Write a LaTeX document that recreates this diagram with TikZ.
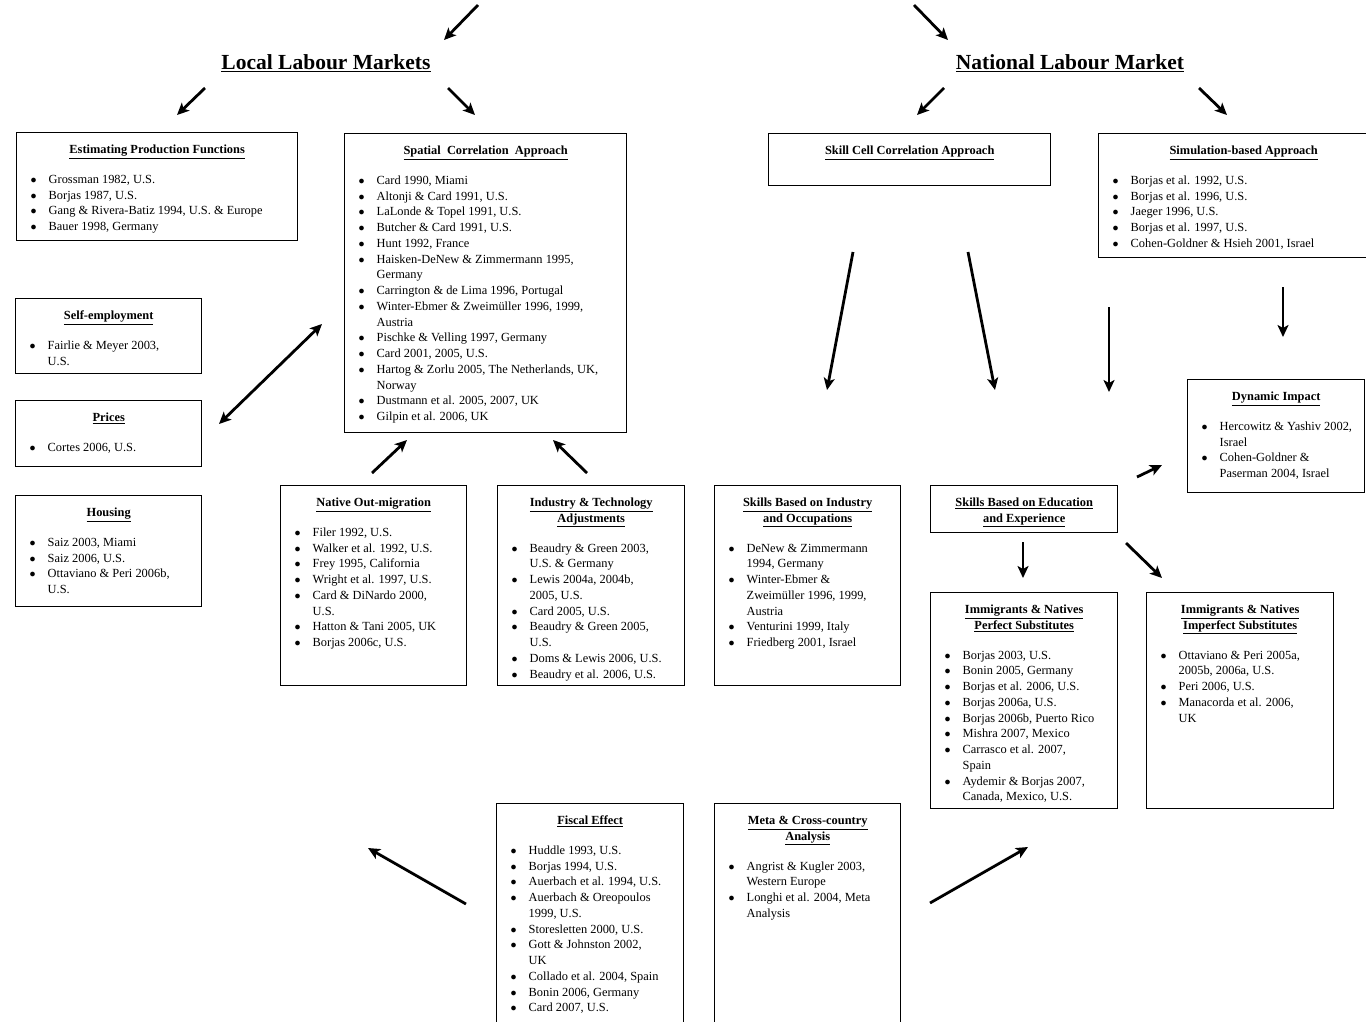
\documentclass[tikz,border=0pt]{standalone}
\usepackage{fontspec}
\setmainfont{Liberation Serif}
\usepackage{tikz}
\usetikzlibrary{arrows.meta,positioning}

% box contents: width, height, body
\newcommand{\refbox}[3]{\parbox[t][#2][t]{#1}{\rightskip=0pt plus 1fil\relax\vspace*{10pt}#3}}
\newcommand{\heading}[1]{\centerline{\strut\smash{\underline{\textbf{#1}}}}}
\newcommand{\itm}[1]{\par\hangindent=32pt\hangafter=1\noindent\hspace*{14pt}\makebox[18pt][l]{$\bullet$}#1\par}
\newcommand{\gap}{\par\vspace{14pt}}

\tikzset{
  box/.style={draw, line width=1.4pt, inner sep=0pt, anchor=north west,
    font=\fontsize{12.4}{15.75}\selectfont},
  market/.style={font=\fontsize{21.5}{24}\selectfont\bfseries},
  arr/.style={line width=2.8pt, -{Stealth[length=12pt,width=11pt,inset=3pt]}},
  dblarr/.style={line width=2.8pt, {Stealth[length=12pt,width=11pt,inset=3pt]}-{Stealth[length=12pt,width=11pt,inset=3pt]}}
}

\begin{document}
\begin{tikzpicture}[x=1pt,y=-1pt]%
\useasboundingbox (0,0) rectangle (1366,1021);
%% labour markets
\node[market] (local) at (326,63) {\underline{Local Labour Markets}};
\node[market] (national) at (1070,63) {\underline{National Labour Market}};
%% local side
\node[box] (est) at (16,132) {\refbox{281pt}{108pt}{%
  \heading{Estimating Production Functions}\gap
  \itm{Grossman 1982, U.S.}
  \itm{Borjas 1987, U.S.}
  \itm{Gang \& Rivera-Batiz 1994, U.S. \& Europe}
  \itm{Bauer 1998, Germany}}};
\node[box] (spatial) at (344,133) {\refbox{282pt}{299pt}{%
  \heading{Spatial\ \ Correlation\ \ Approach}\gap
  \itm{Card 1990, Miami}
  \itm{Altonji \& Card 1991, U.S.}
  \itm{LaLonde \& Topel 1991, U.S.}
  \itm{Butcher \& Card 1991, U.S.}
  \itm{Hunt 1992, France}
  \itm{Haisken-DeNew \& Zimmermann 1995,\newline Germany}
  \itm{Carrington \& de Lima 1996, Portugal}
  \itm{Winter-Ebmer \& Zweimüller 1996, 1999,\newline Austria}
  \itm{Pischke \& Velling 1997, Germany}
  \itm{Card 2001, 2005, U.S.}
  \itm{Hartog \& Zorlu 2005, The Netherlands, UK,\newline Norway}
  \itm{Dustmann et al. 2005, 2007, UK}
  \itm{Gilpin et al. 2006, UK}}};
\node[box] (self) at (15,298) {\refbox{186pt}{75pt}{%
  \heading{Self-employment}\gap
  \itm{Fairlie \& Meyer 2003,\newline U.S.}}};
\node[box] (prices) at (15,400) {\refbox{186pt}{66pt}{%
  \heading{Prices}\gap
  \itm{Cortes 2006, U.S.}}};
\node[box] (housing) at (15,495) {\refbox{186pt}{111pt}{%
  \heading{Housing}\gap
  \itm{Saiz 2003, Miami}
  \itm{Saiz 2006, U.S.}
  \itm{Ottaviano \& Peri 2006b,\newline U.S.}}};
\node[box] (native) at (280,485) {\refbox{186pt}{200pt}{%
  \heading{Native Out-migration}\gap
  \itm{Filer 1992, U.S.}
  \itm{Walker et al. 1992, U.S.}
  \itm{Frey 1995, California}
  \itm{Wright et al. 1997, U.S.}
  \itm{Card \& DiNardo 2000,\newline U.S.}
  \itm{Hatton \& Tani 2005, UK}
  \itm{Borjas 2006c, U.S.}}};
\node[box] (industry) at (497,485) {\refbox{187pt}{200pt}{%
  \heading{Industry \& Technology}
  \heading{Adjustments}\gap
  \itm{Beaudry \& Green 2003,\newline U.S. \& Germany}
  \itm{Lewis 2004a, 2004b,\newline 2005, U.S.}
  \itm{Card 2005, U.S.}
  \itm{Beaudry \& Green 2005,\newline U.S.}
  \itm{Doms \& Lewis 2006, U.S.}
  \itm{Beaudry et al. 2006, U.S.}}};
\node[box] (fiscal) at (496,803) {\refbox{187pt}{240pt}{%
  \heading{Fiscal Effect}\gap
  \itm{Huddle 1993, U.S.}
  \itm{Borjas 1994, U.S.}
  \itm{Auerbach et al. 1994, U.S.}
  \itm{Auerbach \& Oreopoulos\newline 1999, U.S.}
  \itm{Storesletten 2000, U.S.}
  \itm{Gott \& Johnston 2002,\newline UK}
  \itm{Collado et al. 2004, Spain}
  \itm{Bonin 2006, Germany}
  \itm{Card 2007, U.S.}}};
%% national side
\node[box] (skillcell) at (768,133) {\refbox{282pt}{52pt}{%
  \heading{Skill Cell Correlation Approach}}};
\node[box] (simul) at (1098,133) {\refbox{290pt}{124pt}{%
  \heading{Simulation-based Approach}\gap
  \itm{Borjas et al. 1992, U.S.}
  \itm{Borjas et al. 1996, U.S.}
  \itm{Jaeger 1996, U.S.}
  \itm{Borjas et al. 1997, U.S.}
  \itm{Cohen-Goldner \& Hsieh 2001, Israel}}};
\node[box] (skillind) at (714,485) {\refbox{186pt}{200pt}{%
  \heading{Skills Based on Industry}
  \heading{and Occupations}\gap
  \itm{DeNew \& Zimmermann\newline 1994, Germany}
  \itm{Winter-Ebmer \&\newline Zweimüller 1996, 1999,\newline Austria}
  \itm{Venturini 1999, Italy}
  \itm{Friedberg 2001, Israel}}};
\node[box] (skilledu) at (930,485) {\refbox{187pt}{47pt}{%
  \heading{Skills Based on Education}
  \heading{and Experience}}};
\node[box] (dynamic) at (1187,379) {\refbox{177pt}{113pt}{%
  \heading{Dynamic Impact}\gap
  \itm{Hercowitz \& Yashiv 2002,\newline Israel}
  \itm{Cohen-Goldner \&\newline Paserman 2004, Israel}}};
\node[box] (perfect) at (930,592) {\refbox{187pt}{216pt}{%
  \heading{Immigrants \& Natives}
  \heading{Perfect Substitutes}\gap
  \itm{Borjas 2003, U.S.}
  \itm{Bonin 2005, Germany}
  \itm{Borjas et al. 2006, U.S.}
  \itm{Borjas 2006a, U.S.}
  \itm{Borjas 2006b, Puerto Rico}
  \itm{Mishra 2007, Mexico}
  \itm{Carrasco et al. 2007,\newline Spain}
  \itm{Aydemir \& Borjas 2007,\newline Canada, Mexico, U.S.}}};
\node[box] (imperfect) at (1146,592) {\refbox{187pt}{216pt}{%
  \heading{Immigrants \& Natives}
  \heading{Imperfect Substitutes}\gap
  \itm{Ottaviano \& Peri 2005a,\newline 2005b, 2006a, U.S.}
  \itm{Peri 2006, U.S.}
  \itm{Manacorda et al. 2006,\newline UK}}};
\node[box] (meta) at (714,803) {\refbox{186pt}{240pt}{%
  \heading{Meta \& Cross-country}
  \heading{Analysis}\gap
  \itm{Angrist \& Kugler 2003,\newline Western Europe}
  \itm{Longhi et al. 2004, Meta\newline Analysis}}};
%% arrow ends
\coordinate (topL0) at (478,5);     \coordinate (topL1) at (444,40);
\coordinate (topN0) at (914,5);     \coordinate (topN1) at (948,40);
\coordinate (locA0) at (205,88);    \coordinate (locA1) at (177,115);
\coordinate (locB0) at (448,88);    \coordinate (locB1) at (475,115);
\coordinate (natA0) at (944,88);    \coordinate (natA1) at (917,115);
\coordinate (natB0) at (1199,88);   \coordinate (natB1) at (1227,115);
\coordinate (side0) at (322,324);   \coordinate (side1) at (219,424);
\coordinate (mig0) at (372,473);    \coordinate (mig1) at (407,440);
\coordinate (ind0) at (587,473);    \coordinate (ind1) at (553,440);
\coordinate (cellA0) at (853,252);  \coordinate (cellA1) at (827,390);
\coordinate (cellB0) at (968,252);  \coordinate (cellB1) at (995,390);
\coordinate (cellC0) at (1109,307); \coordinate (cellC1) at (1109,392);
\coordinate (sim0) at (1283,287);   \coordinate (sim1) at (1283,337);
\coordinate (dyn0) at (1137,477);   \coordinate (dyn1) at (1162,465);
\coordinate (eduA0) at (1023,542);  \coordinate (eduA1) at (1023,578);
\coordinate (eduB0) at (1126,543);  \coordinate (eduB1) at (1162,578);
\coordinate (fis0) at (466,904);    \coordinate (fis1) at (368,848);
\coordinate (met0) at (930,903);    \coordinate (met1) at (1028,847);
%% arrows
\draw[arr] (topL0) -- (topL1);
\draw[arr] (topN0) -- (topN1);
\draw[arr] (locA0) -- (locA1);
\draw[arr] (locB0) -- (locB1);
\draw[arr] (natA0) -- (natA1);
\draw[arr] (natB0) -- (natB1);
\draw[dblarr] (side0) -- (side1);
\draw[arr] (mig0) -- (mig1);
\draw[arr] (ind0) -- (ind1);
\draw[arr] (cellA0) -- (cellA1);
\draw[arr] (cellB0) -- (cellB1);
\draw[arr] (cellC0) -- (cellC1);
\draw[arr] (sim0) -- (sim1);
\draw[arr] (dyn0) -- (dyn1);
\draw[arr] (eduA0) -- (eduA1);
\draw[arr] (eduB0) -- (eduB1);
\draw[arr] (fis0) -- (fis1);
\draw[arr] (met0) -- (met1);
\end{tikzpicture}
\end{document}
